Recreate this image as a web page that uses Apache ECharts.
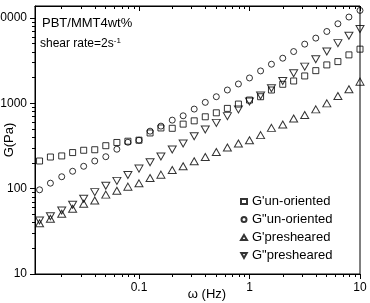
<!DOCTYPE html>
<html>
<head>
<meta charset="utf-8">
<script src="https://cdn.jsdelivr.net/npm/echarts@6/dist/echarts.min.js"></script>
<style>
  html, body { margin: 0; padding: 0; background: #fff; }
  #main { width: 370px; height: 303px; }
</style>
</head>
<body>
<div id="main"></div>
<script>
// frequency (Hz)
let freq = [0.0126, 0.0158, 0.02, 0.0251, 0.0316, 0.0398, 0.0501, 0.0631, 0.0794, 0.1,
  0.126, 0.158, 0.2, 0.251, 0.316, 0.398, 0.501, 0.631, 0.794, 1,
  1.26, 1.58, 2, 2.51, 3.16, 3.98, 5.01, 6.31, 7.94, 10]

let gpUnoriented = [211, 235, 242, 265, 282, 286, 319, 348, 360, 370,
  450, 515, 510, 571, 624, 696, 775, 873, 981, 1094,
  1196, 1434, 1673, 1830, 2096, 2418, 2822, 3086, 3700, 4319]
let gppUnoriented = [97, 116, 138, 160, 183, 211, 237, 290, 350, 370,
  472, 541, 636, 715, 857, 1027, 1196, 1434, 1687, 1985,
  2399, 2876, 3383, 4047, 4945, 5816, 6958, 8567, 10275, 12285]
let gpPresheared = [39.4, 44.4, 50.8, 58.2, 66.6, 72.8, 85.2, 94.7, 105.6, 115.5,
  133.3, 146, 165.5, 183, 209.5, 235, 269.5, 303.6, 338, 370,
  424, 516, 566, 666, 729, 850, 1000, 1219, 1461, 1796]
let gppPresheared = [42.4, 47.6, 55.5, 64.8, 76.3, 91.2, 108, 123.5, 144.5, 172,
  204, 238, 288, 338, 412, 494, 591, 709, 850, 1050,
  1235, 1501, 1830, 2254, 2695, 3294, 4047, 5080, 6192, 7425]

let seriesNames = ["G'un-oriented", 'G"un-oriented', "G'presheared", 'G"presheared']

// tick values
let xMajor = [0.1, 1, 10]
let xMinor = [0.02, 0.03, 0.04, 0.05, 0.06, 0.07, 0.08, 0.09,
  0.2, 0.3, 0.4, 0.5, 0.6, 0.7, 0.8, 0.9,
  2, 3, 4, 5, 6, 7, 8, 9]
let yMajor = [10, 100, 1000, 10000]
let yMinor = [20, 30, 40, 50, 60, 70, 80, 90,
  200, 300, 400, 500, 600, 700, 800, 900,
  2000, 3000, 4000, 5000, 6000, 7000, 8000, 9000]

let xMin = 0.01146, xMax = 10
let yMin = 10, yMax = 13840

function pairs (ys) {
  return freq.map((f, i) => [f, ys[i]])
}

let font = 'Liberation Sans, Arial, sans-serif'
let black = '#000'

// one log axis; labels only on the major axis, minor axes just carry short ticks
function axis (type, pos, ticks, len, inside, labels, line) {
  let ax = {
    type: 'log', position: pos,
    axisLine: { show: true, lineStyle: { color: black, width: 1, opacity: line ? 1 : 0 } },
    axisTick: { show: true, customValues: ticks, length: len, inside: inside, lineStyle: { color: black, width: 1 } },
    axisLabel: labels ? {
      show: true, customValues: ticks, margin: 8,
      color: black, fontSize: 12, fontFamily: font,
      formatter: v => String(v)
    } : { show: false },
    splitLine: { show: false }
  }
  if (type == 'x') { ax.min = xMin; ax.max = xMax } else { ax.min = yMin; ax.max = yMax }
  return ax
}

let hollow = { color: 'rgba(0,0,0,0)', borderColor: black, borderWidth: 1 }

let chart = echarts.init(document.getElementById('main'))
let option = {
  animation: false,
  backgroundColor: '#fff',
  grid: {
    left: 35, right: 10, top: 6, bottom: 29,
    outerBoundsMode: 'none', containLabel: false,
    show: true, borderColor: black, borderWidth: 1
  },
  xAxis: [
    axis('x', 'bottom', xMajor, 5, false, true, true),
    axis('x', 'bottom', xMinor, 3, false, false, false),
    axis('x', 'top', xMajor, 5, true, false, true),
    axis('x', 'top', xMinor, 3, true, false, false)
  ],
  yAxis: [
    axis('y', 'left', yMajor, 5, false, true, true),
    axis('y', 'left', yMinor, 3, false, false, false)
  ],
  legend: {
    orient: 'vertical',
    left: 235, top: 190,
    itemWidth: 6, itemHeight: 5, itemGap: 5, textGap: 12,
    textStyle: { color: black, fontSize: 13, fontFamily: font },
    data: [
      { name: seriesNames[0], icon: 'rect' },
      { name: seriesNames[1], icon: 'circle' },
      { name: seriesNames[2], icon: 'triangle' },
      { name: seriesNames[3], icon: 'path://M0,0L10,0L5,9Z' }
    ]
  },
  graphic: [
    { type: 'text', left: 42, top: 17, style: { text: 'PBT/MMT4wt%', fill: black, font: '13px ' + font } },
    { type: 'text', left: 40, top: 37, style: {
      text: '{a|shear rate=2s}{b|-1}', fill: black,
      rich: { a: { fontSize: 12, fontFamily: font, fill: black }, b: { fontSize: 8, fontFamily: font, fill: black, verticalAlign: 'top', padding: [0, 0, 6, 0] } }
    } },
    { type: 'text', x: 9, y: 140, rotation: Math.PI / 2, style: { text: 'G(Pa)', fill: black, font: '13px ' + font, align: 'center', verticalAlign: 'middle' } },
    { type: 'text', x: 207, y: 294, style: { text: 'ω (Hz)', fill: black, font: '13px ' + font, align: 'center', verticalAlign: 'middle' } }
  ],
  series: [
    { name: seriesNames[0], type: 'scatter', symbol: 'rect', symbolSize: 6, itemStyle: hollow, data: pairs(gpUnoriented) },
    { name: seriesNames[1], type: 'scatter', symbol: 'circle', symbolSize: 6, itemStyle: hollow, data: pairs(gppUnoriented) },
    { name: seriesNames[2], type: 'scatter', symbol: 'triangle', symbolSize: [8, 7], itemStyle: hollow, data: pairs(gpPresheared) },
    { name: seriesNames[3], type: 'scatter', symbol: 'triangle', symbolRotate: 180, symbolSize: [8, 7], itemStyle: hollow, data: pairs(gppPresheared) }
  ]
}
chart.setOption(option)
</script>
</body>
</html>
